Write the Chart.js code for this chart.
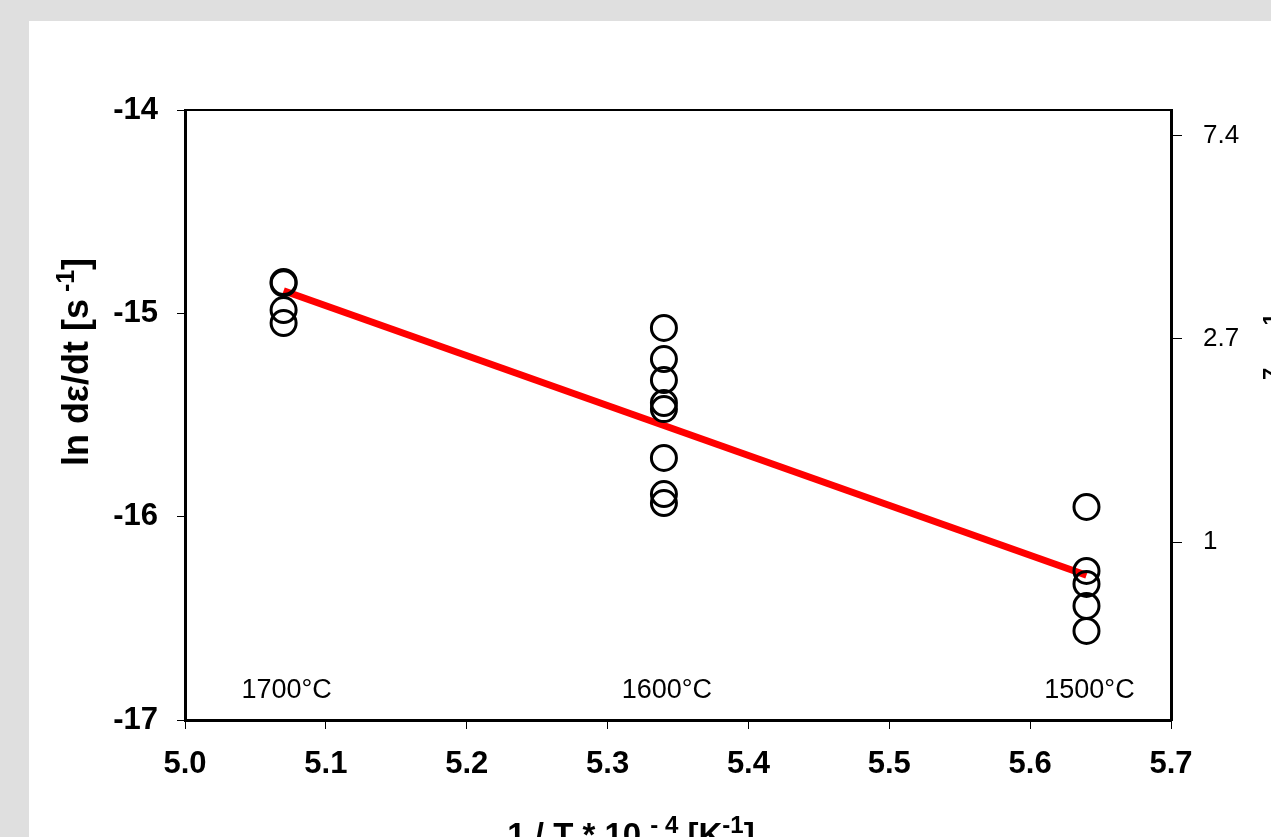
<!DOCTYPE html>
<html>
<head>
<meta charset="utf-8">
<script src="https://cdn.jsdelivr.net/npm/chart.js@4"></script>
<style>
  html, body { margin: 0; padding: 0; overflow: hidden; background: #dfdfdf; }
  #panel { position: absolute; left: 29px; top: 21px; right: 0; bottom: 0; background: #ffffff; }
  #chart { position: absolute; left: 0; top: 0; }
</style>
</head>
<body>
<div id="panel"></div>
<canvas id="chart" width="1271" height="837"></canvas>
<script>
// Arrhenius plot: ln strain rate vs 1/T, with linear fit
// ============================================================

// Inverse temperature of each test group (1/T * 10^-4 K^-1)
const groupX     = [5.07, 5.34, 5.64];
const groupNames = ["1700°C", "1600°C", "1500°C"];

// ln(dε/dt) values
const lnRate1700 = [-14.846, -14.852, -14.984, -15.048];
const lnRate1600 = [-15.072, -15.225, -15.328, -15.441, -15.471, -15.711, -15.889, -15.933];
const lnRate1500 = [-15.952, -16.267, -16.331, -16.439, -16.562];

// Fitted straight line (end points)
const fitX = [5.07, 5.64];
const fitY = [-14.889, -16.288];

// Axis ranges and ticks
const xMin = 5.0, xMax = 5.7, xStep = 0.1;
const yMin = -17, yMax = -14, yStep = 1;
const rightTickValues = [1, 2.718, 7.389];
const rightTickLabels = ["1", "2.7", "7.4"];
const rightOffset = 16.125;          // right axis = exp(left + offset)
const tempLabelY = -16.89;            // height of the temperature captions

const FONT = "'Liberation Sans', Arial, sans-serif";

// Build scatter points for the three columns
const rateCols = [lnRate1700, lnRate1600, lnRate1500];
const points = [];
rateCols.forEach(function (col, i) {
  col.forEach(function (v) { points.push({ x: groupX[i], y: v }); });
});
const fitPoints = fitX.map(function (x, i) { return { x: x, y: fitY[i] }; });

// Draws text made of normal and superscript pieces, centred on (x, y)
function drawRich(ctx, parts, x, y, angle, size, supSize, rise) {
  ctx.save();
  ctx.translate(x, y);
  ctx.rotate(angle);
  ctx.textBaseline = "alphabetic";
  ctx.textAlign = "left";
  let total = 0;
  parts.forEach(function (p) {
    ctx.font = "bold " + (p.sup ? supSize : size) + "px " + FONT;
    p.w = ctx.measureText(p.t).width;
    total += p.w;
  });
  let cx = -total / 2;
  parts.forEach(function (p) {
    ctx.font = "bold " + (p.sup ? supSize : size) + "px " + FONT;
    ctx.fillText(p.t, cx, p.sup ? -rise : 0);
    cx += p.w;
  });
  ctx.restore();
}

// Frame top line, temperature captions and the axis titles
const decorPlugin = {
  id: "decor",
  afterDraw: function (chart) {
    const ctx = chart.ctx;
    const a = chart.chartArea;
    const sx = chart.scales.x, sy = chart.scales.y;

    ctx.save();
    ctx.strokeStyle = "#000";
    ctx.lineWidth = 2;
    ctx.beginPath();
    ctx.moveTo(a.left - 1, a.top);
    ctx.lineTo(a.right + 1, a.top);
    ctx.stroke();

    ctx.fillStyle = "#000";
    ctx.font = "27px " + FONT;
    ctx.textAlign = "center";
    ctx.textBaseline = "alphabetic";
    groupNames.forEach(function (name, i) {
      ctx.fillText(name, sx.getPixelForValue(groupX[i]) + 3, sy.getPixelForValue(tempLabelY));
    });

    // left title
    drawRich(ctx, [
      { t: "ln dε/dt [s" }, { t: " -1", sup: true }, { t: "]" }
    ], 88, 362, -Math.PI / 2, 36, 25, 14);

    // bottom title (cut by the page edge, as in the original)
    drawRich(ctx, [
      { t: "1 / T * 10 " }, { t: "- 4", sup: true }, { t: " [K" }, { t: "-1", sup: true }, { t: "]" }
    ], 631, 846, 0, 33, 24, 13);

    // right title, almost fully outside the page
    drawRich(ctx, [
      { t: "dε/dt * 10 " }, { t: "-7", sup: true }, { t: " [s" }, { t: "-1", sup: true }, { t: "]" }
    ], 1297, 415, -Math.PI / 2, 30, 22, 19);
    ctx.restore();
  }
};

new Chart(document.getElementById("chart"), {
  data: {
    datasets: [
      {
        type: "scatter",
        data: points,
        pointStyle: "circle",
        pointRadius: 12.5,
        pointHoverRadius: 12.5,
        pointBorderWidth: 3,
        pointBorderColor: "#000000",
        pointBackgroundColor: "rgba(0,0,0,0)"
      },
      {
        type: "line",
        data: fitPoints,
        borderColor: "#ff0000",
        borderWidth: 7,
        pointRadius: 0,
        fill: false
      }
    ]
  },
  options: {
    responsive: false,
    animation: false,
    layout: { padding: { top: 110, left: 0, right: 0, bottom: 0 } },
    plugins: { legend: { display: false }, tooltip: { enabled: false } },
    scales: {
      x: {
        type: "linear",
        position: "bottom",
        min: xMin, max: xMax,
        ticks: {
          stepSize: xStep, color: "#000", padding: 17,
          font: { family: FONT, size: 31, weight: "bold" },
          callback: function (v) { return v.toFixed(1); }
        },
        grid: { drawOnChartArea: false, tickLength: 9, tickWidth: 1, tickColor: "#000" },
        border: { display: true, color: "#000", width: 3 },
        afterFit: function (s) { s.height = 117; }
      },
      y: {
        type: "linear",
        position: "left",
        min: yMin, max: yMax,
        ticks: {
          stepSize: yStep, color: "#000", padding: 19,
          font: { family: FONT, size: 31, weight: "bold" }
        },
        grid: { drawOnChartArea: false, tickLength: 8, tickWidth: 1, tickColor: "#000" },
        border: { display: true, color: "#000", width: 3 },
        afterFit: function (s) { s.width = 185; }
      },
      y2: {
        type: "logarithmic",
        position: "right",
        min: Math.exp(yMin + rightOffset),
        max: Math.exp(yMax + rightOffset),
        afterBuildTicks: function (s) {
          s.ticks = rightTickValues.map(function (v) { return { value: v }; });
        },
        ticks: {
          color: "#000", padding: 21,
          font: { family: FONT, size: 26 },
          callback: function (v) {
            const i = rightTickValues.indexOf(v);
            return i >= 0 ? rightTickLabels[i] : "";
          }
        },
        grid: { drawOnChartArea: false, tickLength: 11, tickWidth: 1, tickColor: "#000" },
        border: { display: true, color: "#000", width: 3 },
        afterFit: function (s) { s.width = 100; }
      }
    }
  },
  plugins: [decorPlugin]
});
</script>
</body>
</html>
